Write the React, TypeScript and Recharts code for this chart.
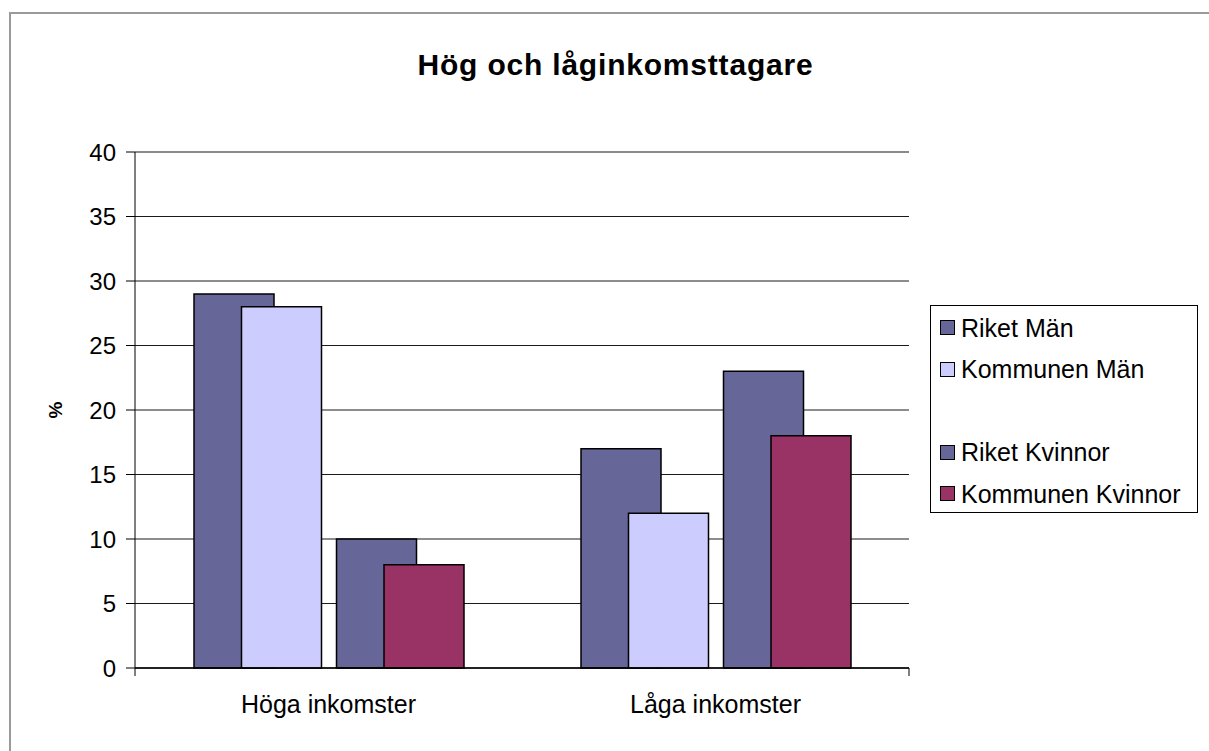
import React from "react";
import {
  BarChart,
  Bar,
  XAxis,
  YAxis,
  CartesianGrid,
  Legend,
  ReferenceLine,
} from "recharts";

const categories = ["Höga inkomster", "Låga inkomster"];
const riketMan = [29, 17];
const kommunenMan = [28, 12];
const riketKvinnor = [10, 23];
const kommunenKvinnor = [8, 18];
const yTicks = [0, 5, 10, 15, 20, 25, 30, 35, 40];

const FONT = '"Liberation Sans", Arial, sans-serif';

// Excel-style series list, including the empty slot between men and women
const series = [
  { key: "riketMan", name: "Riket Män", color: "#666699" },
  { key: "kommunenMan", name: "Kommunen Män", color: "#CCCCFF" },
  { key: "tom", name: "", color: "" },
  { key: "riketKvinnor", name: "Riket Kvinnor", color: "#666699" },
  { key: "kommunenKvinnor", name: "Kommunen Kvinnor", color: "#993366" },
];

const data = categories.map((c, i) => ({
  category: c,
  riketMan: riketMan[i],
  kommunenMan: kommunenMan[i],
  tom: null,
  riketKvinnor: riketKvinnor[i],
  kommunenKvinnor: kommunenKvinnor[i],
}));

const LegendBox = () => (
  <div
    style={{
      width: 268,
      height: 208,
      border: "1px solid #000",
      background: "#fff",
      boxSizing: "border-box",
      paddingTop: 1,
      fontFamily: FONT,
      fontSize: 25,
      color: "#000",
    }}
  >
    {series.map((s) => (
      <div
        key={s.key}
        style={{ height: 41.5, display: "flex", alignItems: "center", paddingLeft: 9 }}
      >
        {s.name ? (
          <>
            <span
              style={{
                display: "inline-block",
                width: 13,
                height: 13,
                background: s.color,
                border: "1.5px solid #000",
                marginRight: 6,
              }}
            />
            <span style={{ lineHeight: "26px" }}>{s.name}</span>
          </>
        ) : null}
      </div>
    ))}
  </div>
);

// boundary ticks only, no labels
const NoLabel = () => <g />;

export default function App() {
  return (
    <div
      style={{
        position: "absolute",
        left: 0,
        top: 0,
        width: 1209,
        height: 751,
        overflow: "hidden",
        background: "#fff",
      }}
    >
      <div
        style={{
          position: "absolute",
          left: 9,
          top: 12,
          width: 1230,
          height: 780,
          border: "2px solid #9a9a9a",
        }}
      />
      <div
        style={{
          position: "absolute",
          left: 0,
          width: 1209,
          top: 48,
          textAlign: "center",
          fontFamily: FONT,
          fontWeight: "bold",
          fontSize: 30,
          letterSpacing: 0.8,
          paddingLeft: 22,
          boxSizing: "border-box",
        }}
      >
        Hög och låginkomsttagare
      </div>
      <div style={{ position: "absolute", left: 0, top: 0 }}>
        <BarChart
          width={1209}
          height={751}
          data={data}
          margin={{ top: 152, right: 300, bottom: 81, left: 0 }}
          barSize={80}
          barGap={-32.5}
          style={{ fontFamily: FONT }}
        >
          <CartesianGrid
            xAxisId="cat"
            vertical={false}
            stroke="#1a1a1a"
            strokeWidth={1}
          />
          <XAxis
            xAxisId="bounds"
            type="number"
            domain={[0, 2]}
            ticks={[0, 1, 2]}
            allowDataOverflow
            height={1}
            tickSize={8}
            tick={NoLabel}
            axisLine={{ stroke: "#000", strokeWidth: 1.5 }}
            tickLine={{ stroke: "#000" }}
          />
          <XAxis
            xAxisId="cat"
            dataKey="category"
            height={1}
            axisLine={false}
            tickLine={false}
            tickSize={0}
            tickMargin={26}
            tick={{ fill: "#000", fontSize: 25, fontFamily: FONT }}
          />
          <YAxis
            domain={[0, 40]}
            ticks={yTicks}
            width={135}
            tickSize={9}
            tickMargin={10}
            axisLine={{ stroke: "#000" }}
            tickLine={{ stroke: "#000" }}
            tick={{ fill: "#000", fontSize: 24, fontFamily: FONT }}
            label={{
              value: "%",
              angle: -90,
              position: "insideLeft",
              offset: 55,
              style: {
                textAnchor: "middle",
                fontWeight: "bold",
                fontSize: 19,
                fill: "#000",
                fontFamily: FONT,
              },
            }}
          />
          <YAxis
            yAxisId="r"
            orientation="right"
            domain={[0, 40]}
            width={0}
            tick={false}
            tickLine={false}
            axisLine={{ stroke: "#8a8a8a", strokeWidth: 1.5 }}
          />
          <ReferenceLine
            xAxisId="cat"
            y={40}
            stroke="#8a8a8a"
            strokeWidth={1.5}
          />
          <Legend
            layout="vertical"
            align="center"
            verticalAlign="middle"
            content={() => <LegendBox />}
            wrapperStyle={{ left: 930, top: 305, width: 268, height: 208 }}
          />
          {series.map((s) => (
            <Bar
              key={s.key}
              xAxisId="cat"
              dataKey={s.key}
              name={s.name || " "}
              fill={s.color || "none"}
              stroke="#000"
              strokeWidth={1.5}
              legendType={s.name ? "square" : "none"}
              isAnimationActive={false}
            />
          ))}
        </BarChart>
      </div>
    </div>
  );
}
